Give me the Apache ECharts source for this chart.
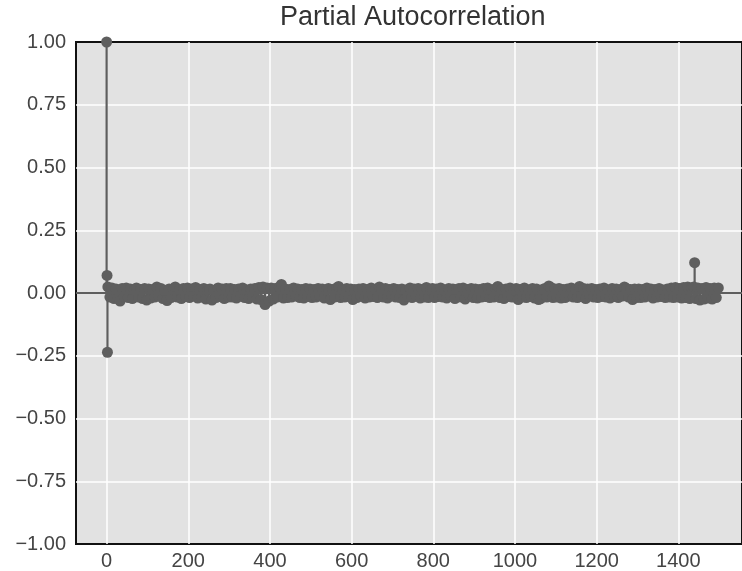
<!DOCTYPE html>
<html>
<head>
<meta charset="utf-8">
<script src="https://cdn.jsdelivr.net/npm/echarts@6/dist/echarts.min.js"></script>
<style>
  html, body { margin: 0; padding: 0; background: #fff; }
  #main { width: 742px; height: 571px; }
</style>
</head>
<body>
<div id="main"></div>
<script>
// first lags (0, 1, 2)
const headLags = [0, 1, 2];
const headPacf = [1.0, 0.07, -0.236];

// the dense band: lags 3, 8, 13 ... 1498 (one value every 5 lags)
const bandStart = 3;
const bandStep = 5;
const bandPacf = [
  0.024, -0.016, 0.02, -0.022, 0.016, -0.02, -0.032, 0.018, -0.014, 0.02, -0.018, 0.016, -0.022, 0.012, 0.02, -0.016, 0.014, -0.022, 0.018, -0.028,
  0.016, -0.02, 0.014, -0.016, 0.024, -0.012, 0.018, -0.022, 0.01, -0.03, 0.016, -0.018, 0.014, 0.024, -0.016, 0.012, -0.022, 0.018, -0.014, 0.02,
  -0.018, 0.016, -0.012, 0.022, -0.02, 0.014, -0.016, 0.018, -0.024, 0.012, 0.016, -0.028, 0.01, -0.018, 0.02, -0.014, 0.016, -0.022, 0.018, -0.016,
  0.018, -0.016, 0.014, -0.02, 0.016, -0.012, 0.02, -0.018, 0.012, -0.022, 0.016, -0.014, 0.018, -0.024, 0.022, -0.026, 0.024, -0.046, 0.02, -0.032,
  0.02, -0.024, 0.018, -0.016, 0.024, 0.034, -0.02, 0.016, -0.018, 0.014, -0.016, 0.02, -0.012, 0.016, -0.018, 0.014, -0.02, 0.018, -0.014, 0.016,
  -0.018, 0.014, -0.016, 0.018, -0.012, 0.016, -0.02, 0.012, 0.018, -0.026, 0.014, -0.016, 0.02, 0.026, -0.018, 0.012, -0.016, 0.018, -0.014, 0.016,
  -0.026, 0.014, -0.018, 0.016, -0.012, 0.018, -0.02, 0.014, -0.016, 0.02, -0.014, 0.012, -0.018, 0.024, 0.016, -0.016, 0.018, -0.02, 0.014, -0.012,
  0.018, -0.016, 0.014, -0.018, 0.016, -0.028, 0.012, -0.014, 0.02, -0.018, 0.016, -0.012, 0.018, -0.02, 0.014, -0.016, 0.022, -0.018, 0.012, 0.018,
  -0.018, 0.016, -0.014, 0.02, -0.016, 0.012, -0.02, 0.018, -0.012, 0.016, -0.022, 0.014, 0.018, -0.016, 0.02, -0.024, 0.014, -0.012, 0.018, -0.018,
  0.016, -0.02, 0.014, -0.016, 0.018, -0.014, 0.02, -0.018, 0.012, -0.016, 0.018, 0.026, -0.018, 0.014, -0.022, 0.016, -0.014, 0.02, -0.016, 0.012,
  0.018, -0.026, 0.014, -0.016, 0.02, -0.018, 0.012, -0.014, 0.018, -0.02, 0.016, -0.026, -0.022, 0.014, 0.018, -0.016, 0.028, 0.022, -0.018, 0.016,
  -0.016, 0.018, -0.02, 0.014, -0.018, 0.016, -0.012, 0.02, -0.016, 0.014, -0.018, 0.026, -0.014, 0.018, -0.022, 0.016, -0.012, 0.018, -0.016, 0.014,
  -0.018, 0.016, -0.014, 0.02, -0.016, 0.012, -0.02, 0.018, -0.014, 0.016, -0.018, 0.014, -0.012, 0.024, 0.018, -0.016, 0.014, -0.026, 0.016, -0.018,
  0.016, -0.018, 0.014, -0.016, 0.02, -0.012, 0.016, -0.02, 0.014, -0.016, 0.018, -0.014, 0.012, -0.018, 0.016, -0.016, 0.02, -0.018, 0.022, -0.016,
  0.018, -0.02, 0.022, -0.018, 0.024, -0.022, 0.02, 0.024, -0.022, 0.02, -0.028, 0.018, -0.024, 0.022, -0.02, 0.018, -0.024, 0.02, -0.018, 0.02
];

// seasonal spike
const spikeLags = [1440];
const spikePacf = [0.121];

const xTicks = [0, 200, 400, 600, 800, 1000, 1200, 1400];

// [lag, value] pairs
const points = [];
headLags.forEach((l, i) => points.push([l, headPacf[i]]));
bandPacf.forEach((v, i) => points.push([bandStart + i * bandStep, v]));
spikeLags.forEach((l, i) => points.push([l, spikePacf[i]]));

const gray = '#5e5e5e';
const font = 'Liberation Sans, Arial, Helvetica, sans-serif';

const chart = echarts.init(document.getElementById('main'));
chart.setOption({
  animation: false,
  title: {
    text: 'Partial Autocorrelation',
    left: 280,
    top: 4,
    padding: 0,
    textStyle: { fontFamily: font, fontSize: 27, fontWeight: 'normal', color: '#333' }
  },
  grid: {
    left: 76, top: 42, right: -2, bottom: 26,
    show: true,
    backgroundColor: '#e2e2e2',
    borderColor: '#111',
    borderWidth: 2
  },
  xAxis: {
    type: 'value',
    min: -75,
    max: 1556,
    axisLine: { show: false },
    axisTick: { show: false, customValues: xTicks },
    axisLabel: {
      customValues: xTicks,
      fontFamily: font, fontSize: 20, color: '#444', margin: 7,
      formatter: v => String(v)
    },
    splitLine: { show: true, lineStyle: { color: '#fff', width: 1.5 } }
  },
  yAxis: {
    type: 'value',
    min: -1,
    max: 1,
    interval: 0.25,
    axisLine: { show: false },
    axisTick: { show: false },
    axisLabel: {
      fontFamily: font, fontSize: 20, color: '#444', margin: 10,
      formatter: v => v.toFixed(2).replace('-', '\u2212')
    },
    splitLine: {
      show: true, showMinLine: false, showMaxLine: false,
      lineStyle: { color: '#fff', width: 1.5 }
    }
  },
  series: [
    {
      // stems from 0 to each value
      type: 'custom',
      z: 2,
      silent: true,
      data: points,
      renderItem: (params, api) => {
        const p0 = api.coord([api.value(0), 0]);
        const p1 = api.coord([api.value(0), api.value(1)]);
        return {
          type: 'line',
          shape: { x1: p0[0], y1: p0[1], x2: p1[0], y2: p1[1] },
          style: { stroke: gray, lineWidth: 2.2 }
        };
      },
      markLine: {
        silent: true,
        symbol: 'none',
        label: { show: false },
        lineStyle: { color: gray, width: 2, type: 'solid' },
        data: [{ yAxis: 0 }]
      }
    },
    {
      type: 'scatter',
      z: 3,
      silent: true,
      symbol: 'circle',
      symbolSize: 11,
      itemStyle: { color: gray, opacity: 1 },
      data: points
    }
  ]
});
</script>
</body>
</html>
